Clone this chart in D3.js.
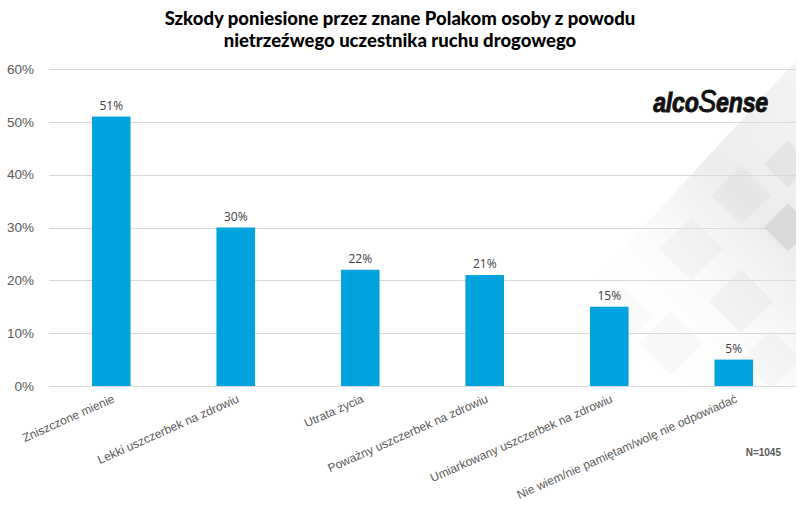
<!DOCTYPE html>
<html>
<head>
<meta charset="utf-8">
<script src="https://cdn.jsdelivr.net/npm/d3@7"></script>
<style>
  body { margin: 0; background: #fff; }
  svg { display: block; }
</style>
</head>
<body>
<div id="chart"></div>
<script>
// Data
const categories = [
  'Zniszczone mienie',
  'Lekki uszczerbek na zdrowiu',
  'Utrata życia',
  'Poważny uszczerbek na zdrowiu',
  'Umiarkowany uszczerbek na zdrowiu',
  'Nie wiem/nie pamiętam/wolę nie odpowiadać'
];
const values = [51, 30, 22, 21, 15, 5];
const yTicks = [0, 10, 20, 30, 40, 50, 60];
const titleLines = [
  'Szkody poniesione przez znane Polakom osoby z powodu',
  'nietrzeźwego uczestnika ruchu drogowego'
];

// Visual
const width = 800;
const height = 507;
const margin = { top: 69, right: 4, bottom: 121, left: 49 };
const barColor = '#00a3dd';
const textColor = '#595959';

const svg = d3.select('#chart')
  .append('svg')
  .attr('width', width)
  .attr('height', height);

const x = d3.scaleBand()
  .domain(categories)
  .range([margin.left, width - margin.right])
  .paddingInner(0.69)
  .paddingOuter(0.345);

const y = d3.scaleLinear()
  .domain([0, 60])
  .range([height - margin.bottom, margin.top]);

// background decoration (grey diamonds fading in the bottom right)
const defs = svg.append('defs');
const grad = defs.append('linearGradient')
  .attr('id', 'fade')
  .attr('x1', '0').attr('y1', '1').attr('x2', '1').attr('y2', '0');
grad.append('stop').attr('offset', '0.3').attr('stop-color', '#ffffff').attr('stop-opacity', 0);
grad.append('stop').attr('offset', '0.7').attr('stop-color', '#ececec').attr('stop-opacity', 1);
grad.append('stop').attr('offset', '1').attr('stop-color', '#f4f4f4').attr('stop-opacity', 1);

const x0 = width - margin.right;
const yTop = y(60), yBot = y(0);
defs.append('clipPath').attr('id', 'bgclip')
  .append('polygon')
  .attr('points', `${x0},${yTop - 8} ${x0},${yBot} ${x0 - 300},${yBot}`);

const bg = svg.append('g').attr('clip-path', 'url(#bgclip)');
bg.append('rect')
  .attr('x', x0 - 300).attr('y', yTop - 8)
  .attr('width', 300).attr('height', yBot - yTop + 8)
  .attr('fill', 'url(#fade)');

const diamonds = [
  [x0 - 8, y(30), 24, 0.13],
  [x0 - 8, y(42), 24, 0.07],
  [x0 - 55, y(36), 30, 0.04],
  [x0 - 55, y(16), 32, 0.05],
  [x0 - 105, y(26), 32, 0.035],
  [x0 - 125, y(8), 32, 0.04],
  [x0 - 25, y(5), 30, 0.035],
  [x0 - 175, y(13), 32, 0.03]
];
bg.selectAll('path.dia')
  .data(diamonds)
  .enter()
  .append('path')
  .attr('class', 'dia')
  .attr('d', d => `M${d[0]},${d[1] - d[2]} L${d[0] + d[2]},${d[1]} L${d[0]},${d[1] + d[2]} L${d[0] - d[2]},${d[1]} Z`)
  .attr('fill', '#606060')
  .attr('fill-opacity', d => d[3]);

// gridlines
svg.append('g')
  .selectAll('line')
  .data(yTicks)
  .enter()
  .append('line')
  .attr('x1', margin.left)
  .attr('x2', width - margin.right)
  .attr('y1', d => Math.round(y(d)) + 0.5)
  .attr('y2', d => Math.round(y(d)) + 0.5)
  .attr('stroke', '#d9d9d9')
  .attr('stroke-width', 1);

// y axis labels
const yAxis = svg.append('g')
  .attr('transform', `translate(${margin.left - 12},0)`)
  .call(d3.axisLeft(y).tickValues(yTicks).tickFormat(d => d + '%').tickSize(0));
yAxis.select('.domain').remove();
yAxis.selectAll('text')
  .attr('fill', textColor)
  .style('font-family', '"Liberation Sans", Arial, sans-serif')
  .style('font-size', '13.5px');

// bars
svg.selectAll('rect.bar')
  .data(values)
  .enter()
  .append('rect')
  .attr('class', 'bar')
  .attr('x', (d, i) => x(categories[i]))
  .attr('y', d => y(d))
  .attr('width', x.bandwidth())
  .attr('height', d => y(0) - y(d))
  .attr('fill', barColor);

// value labels
svg.selectAll('text.val')
  .data(values)
  .enter()
  .append('text')
  .attr('class', 'val')
  .text(d => d + '%')
  .attr('x', (d, i) => x(categories[i]) + x.bandwidth() / 2)
  .attr('y', d => y(d) - 7)
  .attr('text-anchor', 'middle')
  .attr('fill', '#404040')
  .style('font-size', '12px')
  .style('font-family', '"Open Sans", "Noto Sans", sans-serif');

// x axis labels
const xAxis = svg.append('g')
  .attr('transform', `translate(0,${y(0)})`)
  .call(d3.axisBottom(x).tickSize(0));
xAxis.select('.domain').remove();
xAxis.selectAll('text')
  .attr('fill', textColor)
  .style('font-family', '"Liberation Sans", Arial, sans-serif')
  .style('font-size', '12px')
  .attr('text-anchor', 'end')
  .attr('dy', '0')
  .attr('transform', 'translate(3,13) rotate(-24)');

// title
svg.append('text')
  .attr('x', width / 2)
  .attr('y', 25)
  .attr('text-anchor', 'middle')
  .attr('fill', '#000')
  .style('font-family', 'Lato, sans-serif')
  .style('font-weight', '900')
  .style('font-size', '18.5px')
  .selectAll('tspan')
  .data(titleLines)
  .enter()
  .append('tspan')
  .attr('x', width / 2)
  .attr('dy', (d, i) => i === 0 ? 0 : 22)
  .text(d => d);

// logo
const logo = svg.append('text')
  .attr('text-anchor', 'end')
  .attr('transform', 'translate(768,112) scale(0.86,1)')
  .attr('fill', '#111')
  .attr('stroke', '#111')
  .attr('stroke-width', 0.9)
  .style('font-family', '"Liberation Sans", Arial, sans-serif')
  .style('font-weight', 'bold')
  .style('font-style', 'italic')
  .style('font-size', '27px')
  .style('letter-spacing', '-0.3px');
logo.append('tspan').text('alco');
logo.append('tspan').text('S').style('font-size', '31px').style('font-weight', 'normal');
logo.append('tspan').text('ense');

// sample size note
svg.append('text')
  .attr('x', 781)
  .attr('y', 456)
  .attr('text-anchor', 'end')
  .attr('fill', textColor)
  .style('font-family', '"Liberation Sans", Arial, sans-serif')
  .style('font-weight', 'bold')
  .style('font-size', '10px')
  .text('N=1045');
</script>
</body>
</html>
